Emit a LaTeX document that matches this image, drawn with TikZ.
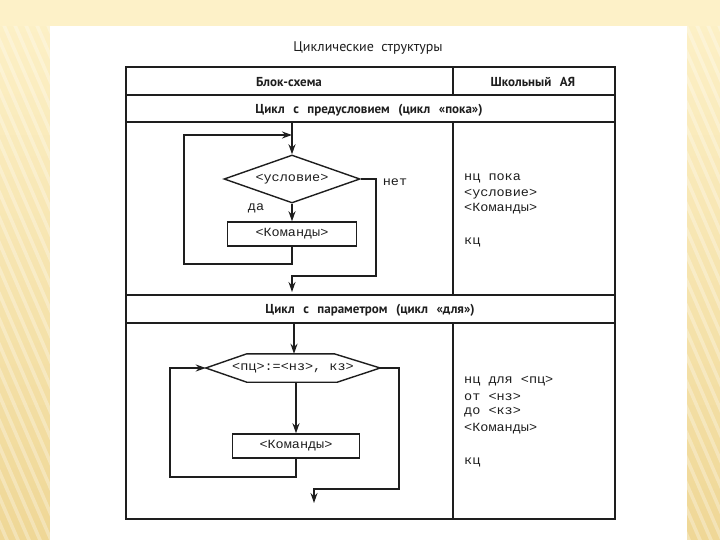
\documentclass[tikz,border=0pt]{standalone}
\usepackage{fontspec}
\setmainfont{PT Sans}
\newfontfamily\codefont[FakeStretch=1.08]{Liberation Mono}
\usetikzlibrary{arrows.meta,shapes.geometric,calc}
\definecolor{bgtop}{HTML}{FDF1C8}
\definecolor{bgbot}{HTML}{EFD796}
\definecolor{ink}{HTML}{1E1E1E}
\newcommand{\gp}{\hspace{8.5pt}}
\begin{document}
\begin{tikzpicture}[x=1pt,y=-1pt,
  ln/.style={line width=1.4pt, draw=ink},
  tbl/.style={line width=1.6pt, draw=ink},
  arr/.style={ln, -{Stealth[length=10pt,width=7pt]}},
  code/.style={font=\codefont\fontsize{12.5}{14}\selectfont, text=ink, inner sep=0pt},
  rcode/.style={code, anchor=west},
  hdr/.style={font=\bfseries\fontsize{13}{15}\selectfont, text=ink, inner sep=0pt},
  blk/.style={ln, inner sep=0pt},
  lbl/.style={code, fill=white, inner sep=0pt}]
\useasboundingbox (0,0) rectangle (720,540);
% background
\shade[top color=bgtop, bottom color=bgbot] (0,0) rectangle (720,540);
\fill[bgtop] (0,0) rectangle (720,26);
\begin{scope}
  \clip (0,26) rectangle (50,540) (687,26) rectangle (720,540);
  \foreach \i in {-700,-689,...,760}
    \draw[white, opacity=0.3, line width=3.5pt] (\i,0) -- ++(260,600);
\end{scope}
\fill[white] (50,26) rectangle (687,540);

% title
\node[font=\fontsize{14}{16}\selectfont, text=ink, inner sep=0pt] (title) at (368,48) {Циклические\ \ структуры};

% table
\draw[tbl] (126,67) rectangle (615,519);
\draw[tbl] (126,95) -- (615,95);
\draw[tbl] (126,122) -- (615,122);
\draw[tbl] (126,295) -- (615,295);
\draw[tbl] (126,323) -- (615,323);
\draw[tbl] (453,67) -- (453,95);
\draw[tbl] (453,122) -- (453,295);
\draw[tbl] (453,323) -- (453,519);

\node[hdr] (h1) at (289,82) {Блок-схема};
\node[hdr] (h2) at (533,82) {Школьный\gp АЯ};
\node[hdr] (r2) at (369,110) {Цикл\gp с\gp предусловием\gp (цикл\gp «пока»)};
\node[hdr] (r4) at (370,310) {Цикл\gp с\gp параметром\gp (цикл\gp «для»)};

% flowchart 1 (while)
\coordinate (t1) at (292,122);
\coordinate (j1) at (292,135);
\coordinate (l1a) at (184,264);
\coordinate (l1b) at (184,135);
\coordinate (n1) at (376,276);
\coordinate (e1) at (292,292);
\node[blk, draw, diamond, shape aspect=2.8, minimum width=136pt, minimum height=48pt, code] (d1) at (292,179) {<условие>};
\node[blk, draw, rectangle, minimum width=129pt, minimum height=24pt, code] (b1) at (292,234) {<Команды>};
\node[code] (yes1) at (256,208) {да};
\node[code] (no1) at (395,182) {нет};
\draw[arr] (t1) -- (d1.north);
\draw[arr] (d1.south) -- (b1.north);
\draw[arr] (b1.south) |- (l1a) -- (l1b) -- (j1);
\draw[arr] (d1.east) -| (n1) -| (e1);

% right column 1
\node[rcode] (p1) at (464,178) {нц пока};
\node[rcode] (p2) at (464,194) {<условие>};
\node[rcode] (p3) at (464,209) {<Команды>};
\node[rcode] (p4) at (464,242) {кц};

% flowchart 2 (for)
\coordinate (t2) at (294,323);
\coordinate (l2) at (170,477);
\coordinate (n2) at (399,489);
\coordinate (e2) at (314,503);
\node[code, minimum width=174pt, minimum height=28pt] (hx) at (293,368) {<пц>:=<нз>,\ кз>};
\draw[ln] (hx.west) -- ($(hx.north west)+(41,0)$) -- ($(hx.north east)+(-46,0)$) -- (hx.east)
  -- ($(hx.south east)+(-43,0)$) -- ($(hx.south west)+(41,0)$) -- cycle;
\node[blk, draw, rectangle, minimum width=127pt, minimum height=24pt, code] (b2) at (296,446) {<Команды>};
\draw[arr] (t2) -- (t2 |- hx.north);
\draw[arr] (b2.north |- hx.south) -- (b2.north);
\draw[arr] (b2.south) |- (l2) |- (hx.west);
\draw[arr] (hx.east) -| (n2) -| (e2);

% right column 2
\node[rcode] (q1) at (464,381) {нц для <пц>};
\node[rcode] (q2) at (464,397) {от <нз>};
\node[rcode] (q3) at (464,412) {до <кз>};
\node[rcode] (q4) at (464,429) {<Команды>};
\node[rcode] (q5) at (464,462) {кц};
\end{tikzpicture}
\end{document}
